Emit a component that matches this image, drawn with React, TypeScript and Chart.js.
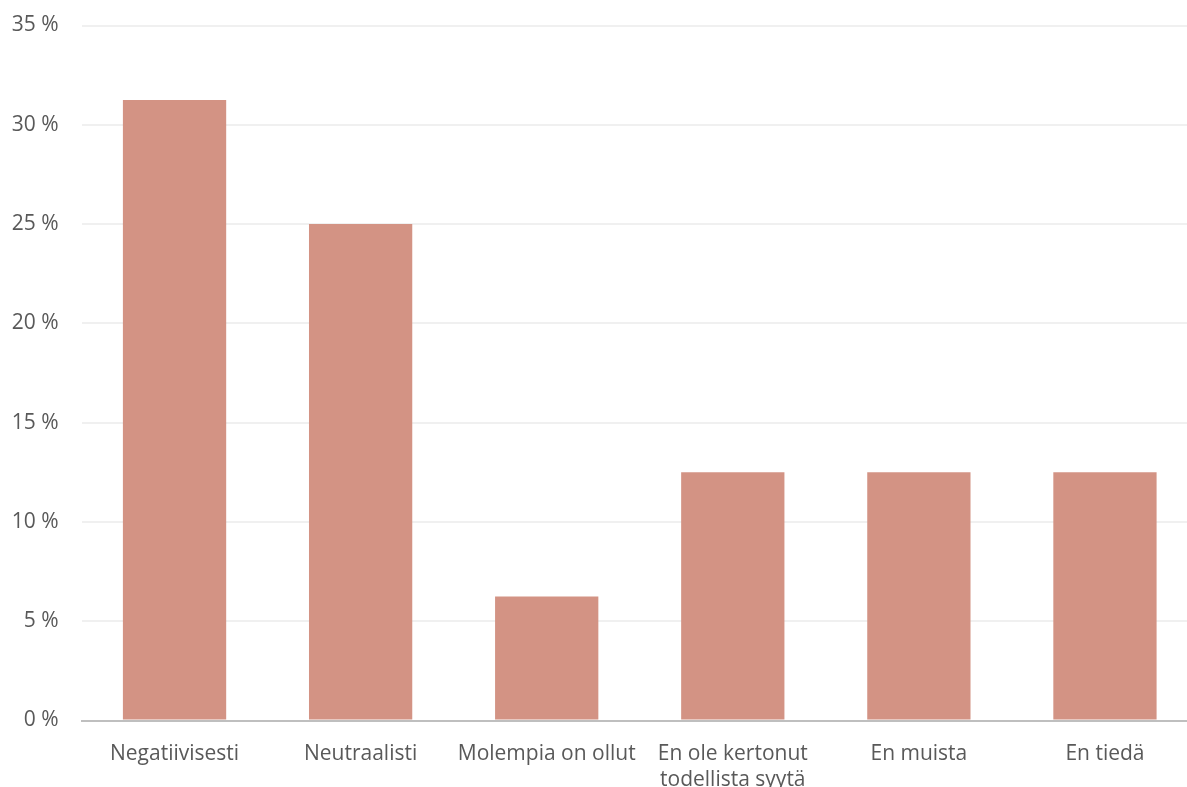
import React, { useEffect, useRef } from "react";
import { Chart, registerables } from "chart.js";

Chart.register(...registerables);

const categories: (string | string[])[] = [
  "Negatiivisesti",
  "Neutraalisti",
  "Molempia on ollut",
  ["En ole kertonut", "todellista syytä"],
  "En muista",
  "En tiedä",
];
const values: number[] = [31.25, 25, 6.25, 12.5, 12.5, 12.5];
const yTicks: number[] = [0, 5, 10, 15, 20, 25, 30, 35];

const FONT = "'Open Sans', 'Noto Sans', sans-serif";
const TEXT = "#595959";

export default function App() {
  const ref = useRef<HTMLCanvasElement | null>(null);

  useEffect(() => {
    document.body.style.margin = "0";
    document.body.style.overflow = "hidden";
    if (!ref.current) return;
    const chart = new Chart(ref.current, {
      type: "bar",
      data: {
        labels: categories,
        datasets: [
          {
            data: values,
            backgroundColor: "#D39384",
            borderWidth: 0,
            barPercentage: 0.555,
            categoryPercentage: 1,
          },
        ],
      },
      options: {
        animation: false,
        responsive: true,
        maintainAspectRatio: false,
        layout: { padding: { top: 25.5, left: 0, right: 0, bottom: 0 } },
        plugins: { legend: { display: false }, tooltip: { enabled: false } },
        scales: {
          x: {
            grid: { display: false, drawTicks: false },
            border: { display: true, color: "#BFBFBF", width: 2 },
            ticks: {
              color: TEXT,
              font: { family: FONT, size: 21, lineHeight: 1.27 },
              maxRotation: 0,
              autoSkip: false,
              padding: 20,
            },
            afterFit: (axis: any) => {
              axis.height = 66.5;
              axis.paddingLeft = 0;
              axis.paddingRight = 0;
            },
          },
          y: {
            min: 0,
            max: 35,
            afterBuildTicks: (axis: any) => {
              axis.ticks = yTicks.map((v) => ({ value: v }));
            },
            grid: { color: "#F0F0F0", lineWidth: 2, drawTicks: false },
            border: { display: false },
            ticks: {
              color: TEXT,
              font: { family: FONT, size: 21 },
              padding: 23,
              callback: (v: any) => `${v} %`,
            },
            afterFit: (axis: any) => {
              axis.width = 81.5;
              axis.paddingTop = 0;
              axis.paddingBottom = 0;
            },
          },
        },
      },
    });
    return () => chart.destroy();
  }, []);

  return (
    <div style={{ position: "fixed", left: 0, top: 0, width: 1187, height: 787, overflow: "hidden", background: "#fff" }}>
      <div style={{ position: "relative", width: 1198, height: 787 }}>
        <canvas ref={ref} />
      </div>
    </div>
  );
}
